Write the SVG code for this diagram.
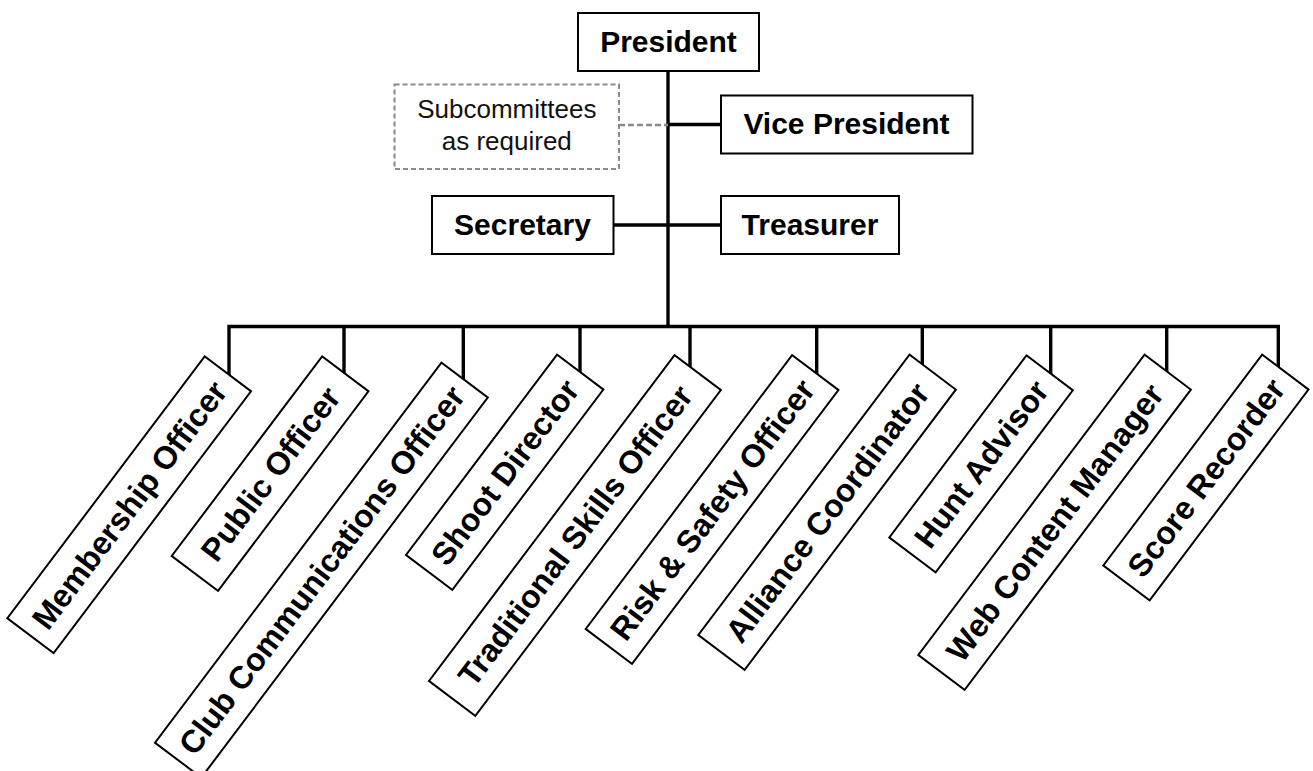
<svg xmlns="http://www.w3.org/2000/svg" width="1313" height="771" viewBox="0 0 1313 771">
<style>
.box{fill:#fff;stroke:#000;stroke-width:2}
.dbox{fill:#fff;stroke:#8a8a8a;stroke-width:2;stroke-dasharray:5 3}
.conn{stroke:#000;stroke-width:3.4;fill:none;stroke-linejoin:miter}
.dash{stroke:#8a8a8a;stroke-width:2.5;stroke-dasharray:6 3;fill:none}
.t{font-family:"Liberation Sans",Arial,sans-serif;font-weight:bold;font-size:30px;fill:#000;text-anchor:middle}
.rt{font-family:"Liberation Sans",Arial,sans-serif;font-weight:bold;font-size:32px;fill:#000;text-anchor:middle}
.st{font-family:"Liberation Sans",Arial,sans-serif;font-size:26px;fill:#111;text-anchor:middle}
</style>
<rect width="1313" height="771" fill="#fff"/>
<g id="connectors">
<path class="conn" d="M668 71 V326.5"/>
<path class="conn" d="M229 378 V326.5 H1280"/>
<path class="conn" d="M344 326.5 V377"/>
<path class="conn" d="M463.3 326.5 V383"/>
<path class="conn" d="M580 326.5 V376"/>
<path class="conn" d="M690 326.5 V371"/>
<path class="conn" d="M816.7 326.5 V378"/>
<path class="conn" d="M922.3 326.5 V369"/>
<path class="conn" d="M1050.7 326.5 V378"/>
<path class="conn" d="M1166.7 326.5 V376"/>
<path class="conn" d="M1278.3 326.5 V371"/>
<path class="conn" d="M668 124.5 H721"/>
<path class="conn" d="M613 225 H721"/>
<path class="dash" d="M619 125 H668"/>
</g>
<g id="president"><rect class="box" x="578" y="13" width="181" height="58"/><text class="t" x="668.5" y="52.3">President</text></g>
<g id="vice-president"><rect class="box" x="721" y="95.5" width="251.5" height="58"/><text class="t" x="846.5" y="134.3">Vice President</text></g>
<g id="subcommittees"><rect class="dbox" x="394.5" y="84.5" width="224.5" height="84.5"/><text class="st" x="506.8" y="118.3">Subcommittees</text><text class="st" x="506.8" y="150">as required</text></g>
<g id="secretary"><rect class="box" x="432" y="196" width="181.5" height="58"/><text class="t" x="522.5" y="235">Secretary</text></g>
<g id="treasurer"><rect class="box" x="721" y="196" width="178" height="58"/><text class="t" x="810" y="235">Treasurer</text></g>
<g id="membership-officer" transform="translate(7.3 618.3) rotate(-53)"><rect class="box" width="328" height="58"/><text class="rt" x="164" y="40.5">Membership Officer</text></g>
<g id="public-officer" transform="translate(171.7 556) rotate(-53)"><rect class="box" width="250" height="58"/><text class="rt" x="125" y="40.5">Public Officer</text></g>
<g id="club-communications-officer" transform="translate(155 742.7) rotate(-53)"><rect class="box" width="476" height="58"/><text class="rt" x="238" y="40.5">Club Communications Officer</text></g>
<g id="shoot-director" transform="translate(406 555) rotate(-53)"><rect class="box" width="251" height="58"/><text class="rt" x="125.5" y="40.5">Shoot Director</text></g>
<g id="traditional-skills-officer" transform="translate(429 681) rotate(-53)"><rect class="box" width="408" height="58"/><text class="rt" x="204" y="40.5">Traditional Skills Officer</text></g>
<g id="risk-safety-officer" transform="translate(585.7 629) rotate(-53)"><rect class="box" width="343" height="58"/><text class="rt" x="171.5" y="40.5">Risk &amp; Safety Officer</text></g>
<g id="alliance-coordinator" transform="translate(698.3 635) rotate(-53)"><rect class="box" width="351" height="58"/><text class="rt" x="175.5" y="40.5">Alliance Coordinator</text></g>
<g id="hunt-advisor" transform="translate(889.3 537.5) rotate(-53)"><rect class="box" width="228" height="58"/><text class="rt" x="114" y="40.5">Hunt Advisor</text></g>
<g id="web-content-manager" transform="translate(918.3 655) rotate(-53)"><rect class="box" width="376" height="58"/><text class="rt" x="188" y="40.5">Web Content Manager</text></g>
<g id="score-recorder" transform="translate(1103.3 565.5) rotate(-53)"><rect class="box" width="264" height="58"/><text class="rt" x="132" y="40.5">Score Recorder</text></g>
</svg>
